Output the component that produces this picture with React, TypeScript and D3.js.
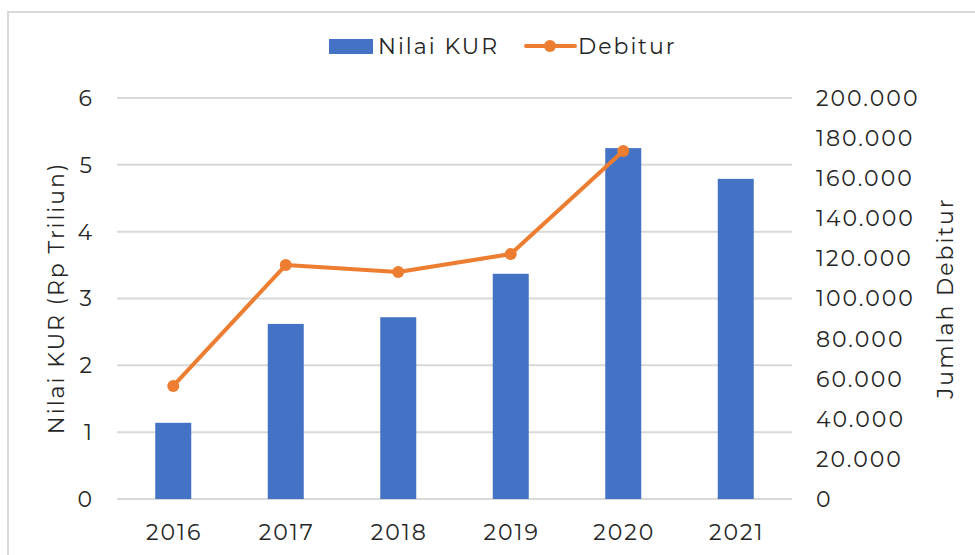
import React from 'react'
import * as d3 from 'd3'

const years = ['2016', '2017', '2018', '2019', '2020', '2021']
const nilaiKur = [1.14, 2.62, 2.72, 3.37, 5.25, 4.79]
const debitur = [56400, 116700, 113200, 122200, 173600]
const leftTicks = [0, 1, 2, 3, 4, 5, 6]
const rightTicks = [0, 20000, 40000, 60000, 80000, 100000, 120000, 140000, 160000, 180000, 200000]

const BLUE = '#4472C4'
const ORANGE = '#ED7D31'
const GRID = '#D9D9D9'
const TEXT = '#262626'
const FONT = "Montserrat, 'DejaVu Sans', sans-serif"
const LS = 2

export default function App() {
  const width = 975
  const height = 555
  const margin = { top: 98, right: 183, bottom: 56, left: 117 }

  const x = d3.scaleBand()
    .domain(years)
    .range([margin.left, width - margin.right])
    .paddingInner(0.68)
    .paddingOuter(0.34)

  const yL = d3.scaleLinear().domain([0, 6]).range([height - margin.bottom, margin.top])
  const yR = d3.scaleLinear().domain([0, 200000]).range([height - margin.bottom, margin.top])

  const fmt = (v: number) => v === 0 ? '0' : d3.format(',')(v).replace(/,/g, '.')

  const line = d3.line<number>()
    .x((d, i) => (x(years[i]) as number) + x.bandwidth() / 2)
    .y(d => yR(d))

  return (
    <svg width={width} height={height} style={{ position: 'absolute', left: 0, top: 0, background: '#fff' }}
      fontFamily={FONT} letterSpacing={LS}>
      <rect x={8} y={12} width={width} height={height} fill="#fff" stroke={GRID} strokeWidth={2} />

      {/* gridlines */}
      {leftTicks.map(t => (
        <line key={t} x1={margin.left} x2={width - margin.right} y1={yL(t)} y2={yL(t)}
          stroke={GRID} strokeWidth={2} />
      ))}

      {/* bars */}
      {nilaiKur.map((v, i) => (
        <rect key={years[i]} x={x(years[i])} width={x.bandwidth()} y={yL(v)} height={yL(0) - yL(v)} fill={BLUE} />
      ))}

      {/* debitur line */}
      <path d={line(debitur) || ''} fill="none" stroke={ORANGE} strokeWidth={4} strokeLinejoin="round" strokeLinecap="round" />
      {debitur.map((v, i) => (
        <circle key={i} cx={(x(years[i]) as number) + x.bandwidth() / 2} cy={yR(v)} r={6} fill={ORANGE} />
      ))}

      {/* left axis labels */}
      {leftTicks.map(t => (
        <text key={t} x={94} y={yL(t)} dy="0.36em" textAnchor="end" fontSize={22} fill={TEXT}>{t}</text>
      ))}
      {/* right axis labels */}
      {rightTicks.map(t => (
        <text key={t} x={816} y={yR(t)} dy="0.36em" textAnchor="start" fontSize={22} fill={TEXT}>{fmt(t)}</text>
      ))}
      {/* x labels */}
      {years.map(yv => (
        <text key={yv} x={(x(yv) as number) + x.bandwidth() / 2 + LS / 2} y={540} textAnchor="middle" fontSize={22} fill={TEXT}>{yv}</text>
      ))}

      {/* axis titles */}
      <text transform="translate(64,298) rotate(-90)" textAnchor="middle" fontSize={22} fill={TEXT}>Nilai KUR (Rp Triliun)</text>
      <text transform="translate(953,298) rotate(-90)" textAnchor="middle" fontSize={22} fill={TEXT}>Jumlah Debitur</text>

      {/* legend */}
      <rect x={329} y={39} width={44} height={15} fill={BLUE} />
      <text x={378} y={54} fontSize={22} fill={TEXT}>Nilai KUR</text>
      <line x1={526} x2={575} y1={46} y2={46} stroke={ORANGE} strokeWidth={4} strokeLinecap="round" />
      <circle cx={550} cy={46} r={6} fill={ORANGE} />
      <text x={578} y={54} fontSize={22} fill={TEXT}>Debitur</text>
    </svg>
  )
}
